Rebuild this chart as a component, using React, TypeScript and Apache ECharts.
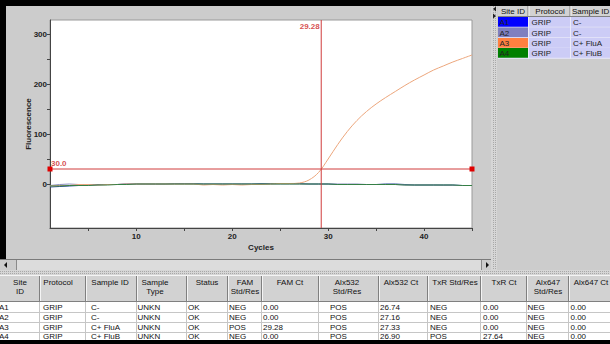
import React, { useEffect, useRef } from "react";
import * as echarts from "echarts";

// ---------- chart data ----------
const cycles = [1, 2, 3, 4, 5, 6, 7, 8, 9, 10, 11, 12, 13, 14, 15, 16, 17, 18, 19, 20, 21, 22, 23, 24, 25, 26, 27, 28, 29, 30, 31, 32, 33, 34, 35, 36, 37, 38, 39, 40, 41, 42, 43, 44, 45];
const a1Values = [-6, -5, -4, -3, -2, -1, -1, -1, 0, 0, 0, 0, 0, 1, 1, 1, 0, 0, 0, 0, 0, 0, 1, 1, 1, 1, 1, 0, 0, 0, -1, -1, -1, -1, -1, 0, 0, -1, -2, -2, -2, -2, -2, -3, -3];
const a2Values = [-3, -1, 0, -1, -2, -2, -1, -1, 0, 0, 0, 0, 0, 0, 0, 0, 0, 0, 0, 0, 0, 0, 0, 0, 0, 0, 0, 0, 0, 0, 0, 0, 0, -1, -1, -1, -1, -2, -2, -2, -2, -3, -3, -3, -3];
const a3Values = [-4, -3, -3, -1, -1, -2, -1, -1, 0, 0, 0, 0, 0, 0, 0, 0, -2, -1, -2, -1, -2, -1, -1, 0, 1, 1, 2, 8, 23, 50, 79, 105, 127, 145, 160, 173, 185, 197, 208, 218, 228, 236, 244, 251, 258];
const a4Values = [-4, -4, -3, -3, -3, -2, -2, -1, -1, 0, 0, 0, 0, 0, 0, 0, 0, 0, 0, 0, 0, 0, 0, 0, 0, 0, 0, 0, 0, 0, -1, -1, -1, -1, -1, -1, -1, -2, -2, -2, -2, -2, -2, -3, -3];
const thresholdValue = 30;
const thresholdLabel = "30.0";
const ctValue = 29.28;
const ctLabel = "29.28";
const xTickValues = [5, 10, 15, 20, 25, 30, 35, 40, 45];
const xLabelValues = [10, 20, 30, 40];
const yTickValues = [0, 50, 100, 150, 200, 250, 300];
const yLabelValues = [0, 100, 200, 300];

// ---------- table data ----------
const siteIds = ["A1", "A2", "A3", "A4"];
const protocols = ["GRIP", "GRIP", "GRIP", "GRIP"];
const sampleIds = ["C-", "C-", "C+ FluA", "C+ FluB"];
const sampleTypes = ["UNKN", "UNKN", "UNKN", "UNKN"];
const statuses = ["OK", "OK", "OK", "OK"];
const famRes = ["NEG", "NEG", "POS", "NEG"];
const famCt = ["0.00", "0.00", "29.28", "0.00"];
const alx532Res = ["POS", "POS", "POS", "POS"];
const alx532Ct = ["26.74", "27.16", "27.33", "26.90"];
const txrRes = ["NEG", "NEG", "NEG", "POS"];
const txrCt = ["0.00", "0.00", "0.00", "27.64"];
const alx647Res = ["NEG", "NEG", "NEG", "NEG"];
const alx647Ct = ["0.00", "0.00", "0.00", "0.00"];
const tableHeaders = [["Site", "ID"], ["Protocol"], ["Sample ID"], ["Sample", "Type"], ["Status"], ["FAM", "Std/Res"], ["FAM Ct"], ["Alx532", "Std/Res"], ["Alx532 Ct"], ["TxR Std/Res"], ["TxR Ct"], ["Alx647", "Std/Res"], ["Alx647 Ct"]];
const sideHeaders = ["Site ID", "Protocol", "Sample ID"];

// ---------- styles / layout ----------
const FONT = "'Liberation Sans', Arial, sans-serif";
const seriesColors = ["#22429a", "#8a8ec0", "#eca67c", "#357f45"];
const siteColors = ["#0000ff", "#7f7fbf", "#ff8040", "#008000"];
const RED = "#d03c3c";
const colEdges = [0, 40, 86, 137, 187, 228, 262, 319, 379, 428, 481, 527, 569, 660];
const cellTextX = [-1, 43, 91, 137.5, 188, 229, 263, 330, 380, 430, 483, 527.5, 570.5];
const headerCenters = [20, 58, 110, 155, 207, 245, 290, 347, 401, 455, 504, 548, 591];
const rowTops = [302, 312, 321.8, 331.5];
const sideEdges = [498, 528.5, 570.5, 660];
const sideRowTops = [17, 27.5, 38, 48];

function buildGraphics() {
  const g: any[] = [];
  const rect = (x: number, y: number, w: number, h: number, fill: string) =>
    g.push({ type: "rect", silent: true, shape: { x, y, width: w, height: h }, style: { fill } });
  const line = (x1: number, y1: number, x2: number, y2: number, stroke: string, dash?: number[]) =>
    g.push({ type: "line", silent: true, shape: { x1, y1, x2, y2 }, style: { stroke, lineWidth: 1, lineDash: dash } });
  const text = (x: number, y: number, t: string, align: string, fill = "#111", weight = "normal") =>
    g.push({ type: "text", silent: true, x, y, style: { text: t, fill, fontSize: 8, fontFamily: FONT, fontWeight: weight, align, verticalAlign: "middle" } });
  const poly = (pts: number[][], fill: string) =>
    g.push({ type: "polygon", silent: true, shape: { points: pts }, style: { fill } });

  // black frame
  rect(0, 0, 610, 6, "#000");
  rect(0, 0, 6, 259, "#000");

  // horizontal scrollbar
  rect(0, 259, 491, 11, "#dcdcdc");
  line(0, 259.5, 491, 259.5, "#7a7a7a");
  rect(0, 260, 16, 10, "#cccccc");
  line(16.5, 260, 16.5, 270, "#8a8a8a");
  poly([[4, 265], [7, 262], [7, 268]], "#111");
  rect(482, 260, 9, 10, "#cccccc");
  line(481.5, 260, 481.5, 270, "#8a8a8a");
  poly([[489, 265], [486, 262], [486, 268]], "#111");

  // vertical splitter
  rect(491, 6, 6, 264, "#d6d6d6");
  line(493.5, 6, 493.5, 270, "#a8a8a8", [1, 1]);
  line(495.5, 6, 495.5, 270, "#a8a8a8", [1, 1]);
  poly([[493, 9], [496, 6.5], [496, 11.5]], "#222");
  poly([[496, 16], [493, 13.5], [493, 18.5]], "#222");

  // horizontal splitter
  rect(0, 270, 610, 5, "#d6d6d6");
  line(0, 271.5, 610, 271.5, "#a8a8a8", [1, 1]);
  line(0, 273.5, 610, 273.5, "#a8a8a8", [1, 1]);

  // ---- side table ----
  rect(498, 6, 112, 11, "#d2d2d2");
  for (let i = 1; i < 3; i++) {
    line(sideEdges[i] - 0.5, 6, sideEdges[i] - 0.5, 17, "#808080");
    line(sideEdges[i] + 0.5, 6, sideEdges[i] + 0.5, 17, "#f4f4f4");
  }
  line(498, 16.5, 610, 16.5, "#808080");
  text(513, 11.5, sideHeaders[0], "center");
  text(550, 11.5, sideHeaders[1], "center");
  text(572, 11.5, sideHeaders[2], "left");
  siteIds.forEach((id, r) => {
    const top = sideRowTops[r];
    rect(498, top, 112, 10.5, "#ccccf6");
    rect(498, top, 30, 10, siteColors[r]);
    line(498, top + 10.25, 610, top + 10.25, "#e8e8f8");
    text(499.5, top + 5.5, id, "left", "#222");
    text(531.5, top + 5.5, protocols[r], "left", "#222");
    text(573, top + 5.5, sampleIds[r], "left", "#222");
  });
  for (let i = 1; i < 3; i++) line(sideEdges[i], 17, sideEdges[i], 58.5, "#ececf8");

  // ---- bottom table ----
  rect(0, 275, 610, 27, "#d2d2d2");
  line(0, 275.5, 610, 275.5, "#f4f4f4");
  for (let i = 1; i < 13; i++) {
    line(colEdges[i] - 0.5, 276, colEdges[i] - 0.5, 301, "#808080");
    line(colEdges[i] + 0.5, 276, colEdges[i] + 0.5, 301, "#f4f4f4");
  }
  line(0, 301.5, 610, 301.5, "#808080");
  tableHeaders.forEach((lines, c) => {
    lines.forEach((t, k) => text(headerCenters[c], 282 + k * 9.5, t, "center"));
  });
  rect(0, 302, 610, 39, "#ffffff");
  const columns = [siteIds, protocols, sampleIds, sampleTypes, statuses, famRes, famCt, alx532Res, alx532Ct, txrRes, txrCt, alx647Res, alx647Ct];
  rowTops.forEach((top, r) => {
    if (r > 0) line(0, Math.round(top) + 0.5, 610, Math.round(top) + 0.5, "#c6c6c6");
    columns.forEach((col, c) => text(cellTextX[c], top + 5.2, col[r], "left"));
  });
  for (let i = 1; i < 13; i++) line(colEdges[i] - 0.5, 302, colEdges[i] - 0.5, 341, "#c6c6c6");
  rect(0, 340, 610, 4, "#000");
  return g;
}

function pairs(vals: number[]) {
  return cycles.map((c, i) => [c, vals[i]]);
}

export default function App() {
  const ref = useRef<HTMLDivElement>(null);
  useEffect(() => {
    if (!ref.current) return;
    const chart = echarts.init(ref.current, null, { renderer: "svg" });
    const axisFont = { fontSize: 8, fontWeight: "bold", color: "#222", fontFamily: FONT };
    const curve = (name: string, vals: number[], color: string, smooth: number | boolean = false) => ({
      name,
      type: "line",
      data: pairs(vals),
      showSymbol: false,
      symbol: "none",
      smooth,
      lineStyle: { color, width: 1 },
      itemStyle: { color },
      z: 2,
    });
    chart.setOption({
      animation: false,
      backgroundColor: "#cccccc",
      textStyle: { fontFamily: FONT },
      grid: { left: 50, top: 20, width: 422, height: 208, show: true, backgroundColor: "#ffffff", borderColor: "#9a9a9a", borderWidth: 1 },
      xAxis: {
        type: "value",
        min: 1,
        max: 45,
        name: "Cycles",
        nameLocation: "middle",
        nameGap: 15,
        nameMoveOverlap: false,
        nameTextStyle: axisFont,
        axisLine: { onZero: false, lineStyle: { color: "#444", width: 1 } },
        axisTick: { customValues: xTickValues, length: 3, lineStyle: { color: "#444" } },
        axisLabel: { customValues: xLabelValues, margin: 4, ...axisFont },
        splitLine: { show: false },
      },
      yAxis: {
        type: "value",
        min: -88,
        max: 328,
        name: "Fluorescence",
        nameLocation: "middle",
        nameGap: 18,
        nameMoveOverlap: false,
        nameTextStyle: axisFont,
        axisLine: { show: true, onZero: false, lineStyle: { color: "#444", width: 1 } },
        axisTick: { show: true, customValues: yTickValues, length: 3, lineStyle: { color: "#444" } },
        axisLabel: { customValues: yLabelValues, margin: 3, ...axisFont },
        splitLine: { show: false },
      },
      series: [
        curve("A1", a1Values, seriesColors[0]),
        curve("A2", a2Values, seriesColors[1]),
        curve("A3", a3Values, seriesColors[2], 0.35),
        curve("A4", a4Values, seriesColors[3]),
        {
          name: "threshold",
          type: "line",
          data: [[cycles[0], thresholdValue], [cycles[cycles.length - 1], thresholdValue]],
          symbol: "rect",
          symbolSize: 5,
          showSymbol: true,
          clip: false,
          lineStyle: { color: RED, width: 1 },
          itemStyle: { color: "#e00000" },
          z: 4,
        },
        {
          name: "ct",
          type: "line",
          data: [[ctValue, -88], [ctValue, 328]],
          symbol: "none",
          lineStyle: { color: RED, width: 1 },
          z: 4,
        },
        {
          name: "labels",
          type: "scatter",
          symbolSize: 1,
          itemStyle: { color: "rgba(0,0,0,0)" },
          clip: false,
          z: 5,
          data: [
            { value: [cycles[0], thresholdValue], label: { show: true, formatter: thresholdLabel, position: [1.5, -9], align: "left", verticalAlign: "top" } },
            { value: [ctValue, 328], label: { show: true, formatter: ctLabel, position: [-1, 3], align: "right", verticalAlign: "top" } },
          ],
          label: { color: "#cc2222", fontSize: 8, fontWeight: "bold", fontFamily: FONT },
        },
      ],
      graphic: buildGraphics(),
    });
    return () => chart.dispose();
  }, []);
  return <div ref={ref} style={{ position: "absolute", left: 0, top: 0, width: 610, height: 344 }} />;
}
